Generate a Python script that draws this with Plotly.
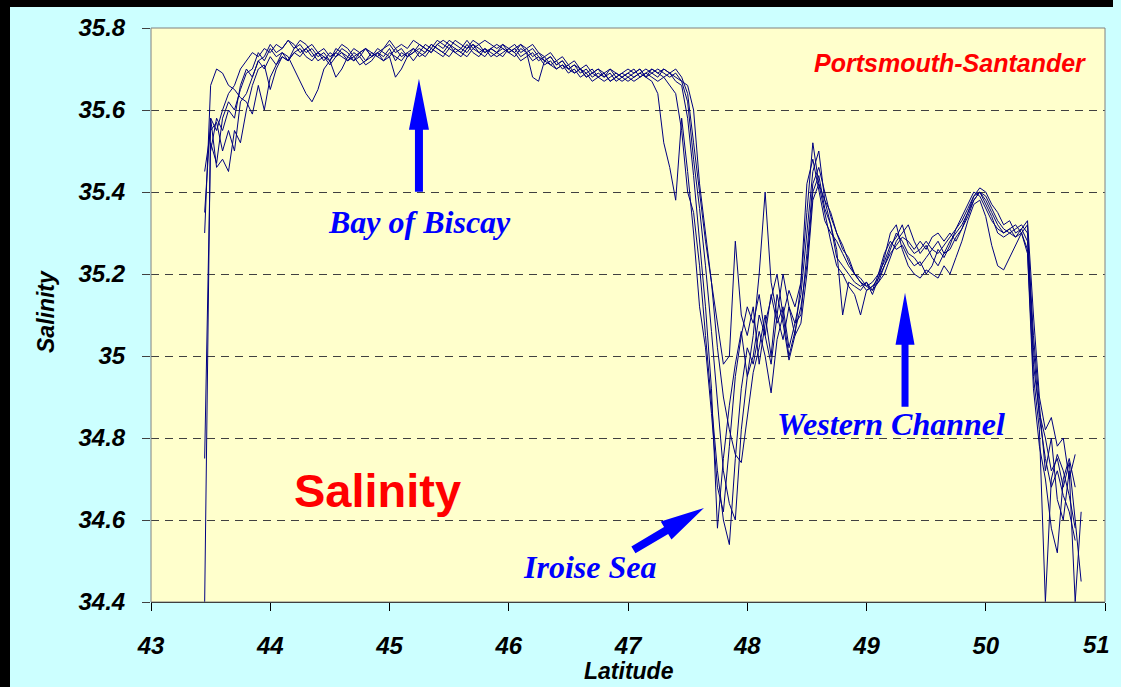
import math
import plotly.graph_objects as go

# ---------------- data ----------------
LAT = [
    43.45, 43.50, 43.55, 43.60, 43.65, 43.70, 43.75, 43.80, 43.85, 43.90,
    43.95, 44.00, 44.05, 44.10, 44.15, 44.20, 44.25, 44.30, 44.35, 44.40,
    44.45, 44.50, 44.55, 44.60, 44.65, 44.70, 44.75, 44.80, 44.85, 44.90,
    44.95, 45.00, 45.05, 45.10, 45.15, 45.20, 45.25, 45.30, 45.35, 45.40,
    45.45, 45.50, 45.55, 45.60, 45.65, 45.70, 45.75, 45.80, 45.85, 45.90,
    45.95, 46.00, 46.05, 46.10, 46.15, 46.20, 46.25, 46.30, 46.35, 46.40,
    46.45, 46.50, 46.55, 46.60, 46.65, 46.70, 46.75, 46.80, 46.85, 46.90,
    46.95, 47.00, 47.05, 47.10, 47.15, 47.20, 47.25, 47.30, 47.35, 47.40,
    47.45, 47.50, 47.55, 47.60, 47.65, 47.70, 47.75, 47.80, 47.85, 47.90,
    47.95, 48.00, 48.05, 48.10, 48.15, 48.20, 48.25, 48.30, 48.35, 48.40,
    48.45, 48.50, 48.55, 48.60, 48.65, 48.70, 48.75, 48.80, 48.85, 48.90,
    48.95, 49.00, 49.05, 49.10, 49.15, 49.20, 49.25, 49.30, 49.35, 49.40,
    49.45, 49.50, 49.55, 49.60, 49.65, 49.70, 49.75, 49.80, 49.85, 49.90,
    49.95, 50.00, 50.05, 50.10, 50.15, 50.20, 50.25, 50.30, 50.35, 50.40,
    50.45, 50.50, 50.55, 50.60, 50.65, 50.70, 50.75, 50.80,
]

CROSSING_1 = [
    34.40, 35.58, 35.55, 35.60, 35.64, 35.66, 35.70, 35.72, 35.74, 35.73,
    35.75, 35.74, 35.76, 35.75, 35.77, 35.76, 35.74, 35.75, 35.73, 35.74,
    35.72, 35.74, 35.73, 35.75, 35.74, 35.72, 35.73, 35.75, 35.74, 35.73,
    35.75, 35.76, 35.74, 35.75, 35.73, 35.74, 35.76, 35.75, 35.74, 35.76,
    35.75, 35.77, 35.76, 35.75, 35.74, 35.76, 35.75, 35.74, 35.75, 35.76,
    35.75, 35.74, 35.75, 35.73, 35.74, 35.72, 35.73, 35.71, 35.72, 35.70,
    35.71, 35.70, 35.69, 35.70, 35.68, 35.69, 35.68, 35.67, 35.68, 35.69,
    35.68, 35.67, 35.68, 35.69, 35.68, 35.67, 35.64, 35.52, 35.46, 35.38,
    35.58, 35.45, 35.30, 35.12, 35.02, 34.86, 34.68, 34.62, 34.78, 34.95,
    35.05, 35.12, 35.08, 35.15, 35.05, 34.98, 35.10, 35.20, 35.12, 35.05,
    35.18, 35.42, 35.48, 35.40, 35.33, 35.30, 35.28, 35.25, 35.22, 35.20,
    35.18, 35.17, 35.16, 35.18, 35.22, 35.26, 35.30, 35.28, 35.25, 35.24,
    35.22, 35.24, 35.26, 35.25, 35.27, 35.29, 35.31, 35.33, 35.36, 35.39,
    35.40, 35.39, 35.36, 35.33, 35.31, 35.30, 35.29, 35.31, 35.28, 35.02,
    34.85, 34.75, 34.68, 34.72, 34.66, 34.62, 34.55, None,
]

CROSSING_2 = [
    34.75, 35.52, 35.47, 35.58, 35.62, 35.60, 35.65, 35.69, 35.70, 35.74,
    35.72, 35.75, 35.73, 35.74, 35.72, 35.75, 35.77, 35.76, 35.74, 35.72,
    35.73, 35.71, 35.73, 35.74, 35.72, 35.73, 35.71, 35.72, 35.74, 35.73,
    35.72, 35.74, 35.73, 35.72, 35.74, 35.75, 35.73, 35.74, 35.76, 35.75,
    35.74, 35.73, 35.75, 35.74, 35.76, 35.74, 35.73, 35.75, 35.74, 35.73,
    35.74, 35.75, 35.74, 35.76, 35.75, 35.73, 35.74, 35.72, 35.73, 35.71,
    35.72, 35.70, 35.71, 35.69, 35.70, 35.68, 35.69, 35.68, 35.70, 35.69,
    35.68, 35.69, 35.70, 35.68, 35.69, 35.70, 35.69, 35.68, 35.69, 35.67,
    35.66, 35.58, 35.44, 35.28, 35.12, 34.92, 34.58, 34.75, 34.88, 34.98,
    35.06, 34.95, 35.00, 35.10, 35.05, 35.15, 35.08, 35.12, 35.02, 35.08,
    35.15, 35.30, 35.45, 35.50, 35.38, 35.35, 35.30, 35.26, 35.24, 35.20,
    35.18, 35.16, 35.17, 35.18, 35.20, 35.24, 35.28, 35.30, 35.32, 35.28,
    35.25, 35.27, 35.24, 35.22, 35.25, 35.28, 35.30, 35.32, 35.35, 35.38,
    35.40, 35.38, 35.35, 35.32, 35.30, 35.31, 35.29, 35.30, 35.32, 34.98,
    34.86, 34.80, 34.72, 34.75, 34.68, 34.74, 34.60, 34.45,
]

CROSSING_3 = [
    35.30, 35.66, 35.70, 35.69, 35.66, 35.65, 35.63, 35.62, 35.59, 35.66,
    35.60, 35.68, 35.71, 35.73, 35.72, 35.74, 35.73, 35.75, 35.76, 35.74,
    35.75, 35.73, 35.74, 35.76, 35.75, 35.73, 35.74, 35.75, 35.73, 35.74,
    35.75, 35.77, 35.75, 35.73, 35.74, 35.72, 35.74, 35.73, 35.75, 35.77,
    35.76, 35.75, 35.77, 35.76, 35.75, 35.77, 35.76, 35.74, 35.75, 35.74,
    35.76, 35.74, 35.75, 35.76, 35.74, 35.75, 35.73, 35.72, 35.71, 35.72,
    35.70, 35.71, 35.69, 35.70, 35.69, 35.67, 35.68, 35.69, 35.67, 35.68,
    35.69, 35.68, 35.67, 35.68, 35.69, 35.68, 35.67, 35.68, 35.66, 35.64,
    35.55, 35.40, 35.35, 35.22, 35.05, 34.88, 34.72, 34.60, 34.54, 34.75,
    34.92, 35.02, 34.98, 35.06, 35.00, 34.91, 35.04, 35.10, 35.00, 35.06,
    35.12, 35.22, 35.40, 35.44, 35.36, 35.32, 35.24, 35.22, 35.20, 35.18,
    35.17, 35.18, 35.16, 35.20, 35.25, 35.28, 35.26, 35.27, 35.24, 35.22,
    35.23, 35.20, 35.22, 35.26, 35.24, 35.27, 35.31, 35.34, 35.37, 35.40,
    35.39, 35.36, 35.33, 35.31, 35.30, 35.31, 35.32, 35.30, 35.26, 34.95,
    34.82, 34.40, 34.70, 34.76, 34.72, 34.66, 34.58, None,
]

CROSSING_4 = [
    35.45, 35.55, 35.57, 35.50, 35.55, 35.50, 35.62, 35.64, 35.68, 35.72,
    35.70, 35.73, 35.71, 35.74, 35.73, 35.70, 35.67, 35.64, 35.62, 35.65,
    35.70, 35.72, 35.74, 35.73, 35.72, 35.74, 35.73, 35.71, 35.72, 35.74,
    35.73, 35.75, 35.72, 35.74, 35.73, 35.75, 35.74, 35.76, 35.75, 35.74,
    35.73, 35.75, 35.74, 35.73, 35.75, 35.76, 35.74, 35.75, 35.73, 35.74,
    35.73, 35.75, 35.74, 35.72, 35.73, 35.74, 35.72, 35.73, 35.71, 35.70,
    35.71, 35.69, 35.70, 35.68, 35.69, 35.70, 35.68, 35.69, 35.67, 35.68,
    35.67, 35.68, 35.69, 35.70, 35.68, 35.69, 35.70, 35.69, 35.68, 35.69,
    35.67, 35.62, 35.48, 35.36, 35.22, 35.06, 34.88, 34.72, 34.64, 34.60,
    34.82, 34.95, 35.05, 35.20, 35.40, 35.18, 35.10, 35.04, 35.12, 35.08,
    35.10, 35.25, 35.42, 35.46, 35.40, 35.34, 35.30, 35.27, 35.23, 35.20,
    35.19, 35.17, 35.18, 35.20, 35.23, 35.27, 35.29, 35.32, 35.27, 35.25,
    35.26, 35.28, 35.26, 35.28, 35.25, 35.26, 35.29, 35.31, 35.34, 35.38,
    35.40, 35.37, 35.34, 35.30, 35.29, 35.30, 35.31, 35.32, 35.30, 35.05,
    34.88, 34.72, 34.80, 34.65, 34.60, 34.72, 34.40, 34.62,
]

CROSSING_5 = [
    35.35, 35.58, 35.46, 35.48, 35.45, 35.55, 35.52, 35.60, 35.66, 35.70,
    35.71, 35.65, 35.70, 35.73, 35.72, 35.74, 35.75, 35.73, 35.72, 35.74,
    35.73, 35.72, 35.68, 35.70, 35.73, 35.72, 35.74, 35.75, 35.73, 35.74,
    35.72, 35.73, 35.68, 35.70, 35.73, 35.74, 35.75, 35.74, 35.76, 35.75,
    35.74, 35.76, 35.75, 35.74, 35.73, 35.75, 35.74, 35.73, 35.75, 35.74,
    35.75, 35.74, 35.73, 35.75, 35.74, 35.68, 35.67, 35.72, 35.73, 35.71,
    35.72, 35.70, 35.71, 35.70, 35.68, 35.69, 35.70, 35.68, 35.69, 35.67,
    35.68, 35.69, 35.68, 35.69, 35.70, 35.69, 35.68, 35.70, 35.69, 35.68,
    35.67, 35.66, 35.60, 35.42, 35.30, 35.18, 35.02, 34.90, 34.82, 34.76,
    34.74, 34.85, 34.96, 35.02, 35.10, 35.00, 35.15, 35.08, 34.99, 35.05,
    35.08, 35.20, 35.38, 35.42, 35.35, 35.28, 35.22, 35.20, 35.17, 35.15,
    35.10, 35.16, 35.17, 35.19, 35.24, 35.30, 35.32, 35.26, 35.22, 35.20,
    35.19, 35.21, 35.20, 35.19, 35.22, 35.20, 35.24, 35.28, 35.33, 35.37,
    35.38, 35.34, 35.27, 35.22, 35.21, 35.24, 35.27, 35.30, 35.25, 34.92,
    34.78, 34.70, 34.58, 34.52, 34.70, 34.75, 34.68, None,
]

CROSSING_6 = [
    None, 35.50, 35.58, 35.55, 35.60, 35.58, 35.66, 35.70, 35.68, 35.72,
    35.73, 35.76, 35.74, 35.75, 35.77, 35.75, 35.76, 35.74, 35.75, 35.73,
    35.74, 35.72, 35.75, 35.74, 35.73, 35.75, 35.74, 35.72, 35.73, 35.75,
    35.74, 35.73, 35.75, 35.76, 35.75, 35.77, 35.76, 35.75, 35.74, 35.76,
    35.77, 35.76, 35.74, 35.75, 35.77, 35.75, 35.76, 35.77, 35.76, 35.75,
    35.76, 35.75, 35.76, 35.74, 35.75, 35.76, 35.74, 35.73, 35.74, 35.72,
    35.73, 35.71, 35.72, 35.70, 35.71, 35.69, 35.70, 35.69, 35.70, 35.68,
    35.69, 35.70, 35.69, 35.70, 35.68, 35.70, 35.69, 35.70, 35.69, 35.70,
    35.68, 35.64, 35.52, 35.40, 35.28, 35.18, 35.08, 34.98, 35.00, 35.28,
    35.10, 35.05, 35.12, 34.98, 35.08, 35.14, 35.20, 35.10, 35.16, 35.12,
    35.18, 35.35, 35.52, 35.42, 35.38, 35.32, 35.26, 35.10, 35.18, 35.17,
    35.16, 35.18, 35.15, 35.19, 35.22, 35.25, 35.27, 35.29, 35.28, 35.26,
    35.28, 35.26, 35.29, 35.30, 35.28, 35.30, 35.28, 35.31, 35.35, 35.39,
    35.41, 35.40, 35.37, 35.35, 35.32, 35.33, 35.30, 35.31, 35.33, 35.10,
    34.90, 34.82, 34.85, 34.78, 34.80, 34.70, 34.76, None,
]

SERIES = [CROSSING_1, CROSSING_2, CROSSING_3, CROSSING_4, CROSSING_5, CROSSING_6]

X_TICKS = [43, 44, 45, 46, 47, 48, 49, 50, 51]
X_TICK_TEXT = ["43", "44", "45", "46", "47", "48", "49", "50", ""]
LAST_X_LABEL = "51"
Y_TICKS = [34.4, 34.6, 34.8, 35.0, 35.2, 35.4, 35.6, 35.8]
Y_TICK_TEXT = ["34.4", "34.6", "34.8", "35", "35.2", "35.4", "35.6", "35.8"]

# ---------------- styling ----------------
# the page renders the figure 8 px narrower than the window
W, H = 1113, 687
ML, MR, MT, MB = 151, 8, 28, 85
PW, PH = W - ML - MR, H - MT - MB

CYAN = "#CCFFFF"
YELLOW = "#FFFFCC"
NAVY = "#000080"
BLUE = "#0000FF"
RED = "#FF0000"
SANS = "Arial, Liberation Sans, sans-serif"
SERIF = "Times New Roman, Liberation Serif, serif"


def px_x(p):
    return (p - ML) / PW


def px_y(p):
    return (H - MB - p) / PH


fig = go.Figure()
for s in SERIES:
    fig.add_trace(go.Scatter(x=LAT, y=s, mode="lines",
                             line=dict(color=NAVY, width=1),
                             connectgaps=False, showlegend=False,
                             hoverinfo="skip"))

tickfont = dict(family=SANS, size=24, color="black", weight="bold", style="italic")

fig.update_layout(
    width=W, height=H, autosize=False,
    margin=dict(l=ML, r=MR, t=MT, b=MB, pad=0),
    paper_bgcolor=CYAN, plot_bgcolor=YELLOW,
    showlegend=False,
    xaxis=dict(range=[43, 51], tickvals=X_TICKS, ticktext=X_TICK_TEXT,
               showgrid=False, zeroline=False,
               showline=True, linecolor="black", linewidth=1,
               ticks="outside", ticklen=8, tickcolor="black",
               tickfont=tickfont, ticklabelstandoff=14),
    yaxis=dict(range=[34.4, 35.8], tickvals=Y_TICKS, ticktext=Y_TICK_TEXT,
               showgrid=True, gridcolor="#404040", gridwidth=1, griddash="8px,6px",
               zeroline=False, showline=False,
               ticks="outside", ticklen=8, tickcolor="#404040",
               tickfont=tickfont, ticklabelstandoff=12),
)

shapes = []
# plot-area frame (grey), drawn above grid
shapes.append(dict(type="rect", xref="paper", yref="paper", x0=0, x1=1, y0=0, y1=1,
                   line=dict(color="#808080", width=1), fillcolor="rgba(0,0,0,0)",
                   layer="above"))
# black border strips of the slide (left and top)
shapes.append(dict(type="rect", xref="paper", yref="paper",
                   x0=px_x(0), x1=px_x(10), y0=px_y(H), y1=px_y(0),
                   line=dict(width=0), fillcolor="black", layer="above"))
shapes.append(dict(type="rect", xref="paper", yref="paper",
                   x0=px_x(0), x1=px_x(W), y0=px_y(7), y1=px_y(0),
                   line=dict(width=0), fillcolor="black", layer="above"))


def arrow_path(length, head_len, head_w, shaft_w, angle_deg):
    pts = [(0, 0), (-head_len, head_w / 2), (-head_len, shaft_w / 2),
           (-length, shaft_w / 2), (-length, -shaft_w / 2),
           (-head_len, -shaft_w / 2), (-head_len, -head_w / 2)]
    a = math.radians(angle_deg)
    ca, sa = math.cos(a), math.sin(a)
    rot = [(x * ca - y * sa, x * sa + y * ca) for x, y in pts]
    return "M" + " L".join(f"{x:.1f},{y:.1f}" for x, y in rot) + " Z"


# arrows: (tip latitude, tip salinity, total length, head length, head width, shaft width, angle)
ARROWS = [
    (45.247, 35.676, 113, 51, 20, 8, 90),
    (49.323, 35.154, 114, 52, 19, 7, 90),
    (47.637, 34.629, 82, 44, 21, 8, 30.6),
]
for lx, sy, L, hl, hw, sw, ang in ARROWS:
    shapes.append(dict(type="path", xref="x", yref="y",
                       xsizemode="pixel", ysizemode="pixel",
                       xanchor=lx, yanchor=sy,
                       path=arrow_path(L, hl, hw, sw, ang),
                       fillcolor=BLUE, line=dict(width=0), layer="above"))

fig.update_layout(shapes=shapes)

ann = [
    dict(text="Portsmouth-Santander", x=px_x(950), y=px_y(63),
         font=dict(family=SANS, size=25, color=RED, weight="bold", style="italic")),
    dict(text="Salinity", x=px_x(377), y=px_y(490),
         font=dict(family=SANS, size=47, color=RED, weight="bold")),
    dict(text="Bay of Biscay", x=px_x(419), y=px_y(222),
         font=dict(family=SERIF, size=32, color=BLUE, weight="bold", style="italic")),
    dict(text="Western Channel", x=px_x(891), y=px_y(424),
         font=dict(family=SERIF, size=32, color=BLUE, weight="bold", style="italic")),
    dict(text="Iroise Sea", x=px_x(589), y=px_y(567),
         font=dict(family=SERIF, size=32, color=BLUE, weight="bold", style="italic")),
    dict(text="Latitude", x=px_x(629), y=px_y(671),
         font=dict(family=SANS, size=23, color="black", weight="bold", style="italic")),
    dict(text="Salinity", x=px_x(46), y=px_y(312), textangle=-90,
         font=dict(family=SANS, size=23, color="black", weight="bold", style="italic")),
    # last x tick label, pulled inside the page edge
    dict(text=LAST_X_LABEL, x=px_x(W - 1), y=px_y(644), xanchor="right",
         font=dict(family=SANS, size=24, color="black", weight="bold", style="italic")),
]
for a in ann:
    a.setdefault("xanchor", "center")
    a.update(xref="paper", yref="paper", showarrow=False, yanchor="middle")
fig.update_layout(annotations=ann)

POST = (
    "document.documentElement.style.overflow='hidden';"
    "document.documentElement.style.background='#CCFFFF';"
    "document.body.style.margin='0';"
    "document.body.style.overflow='hidden';"
    "document.body.style.background='#CCFFFF';"
)

fig.write_html("out.html",
               config={"responsive": False, "displayModeBar": False},
               post_script=POST)
